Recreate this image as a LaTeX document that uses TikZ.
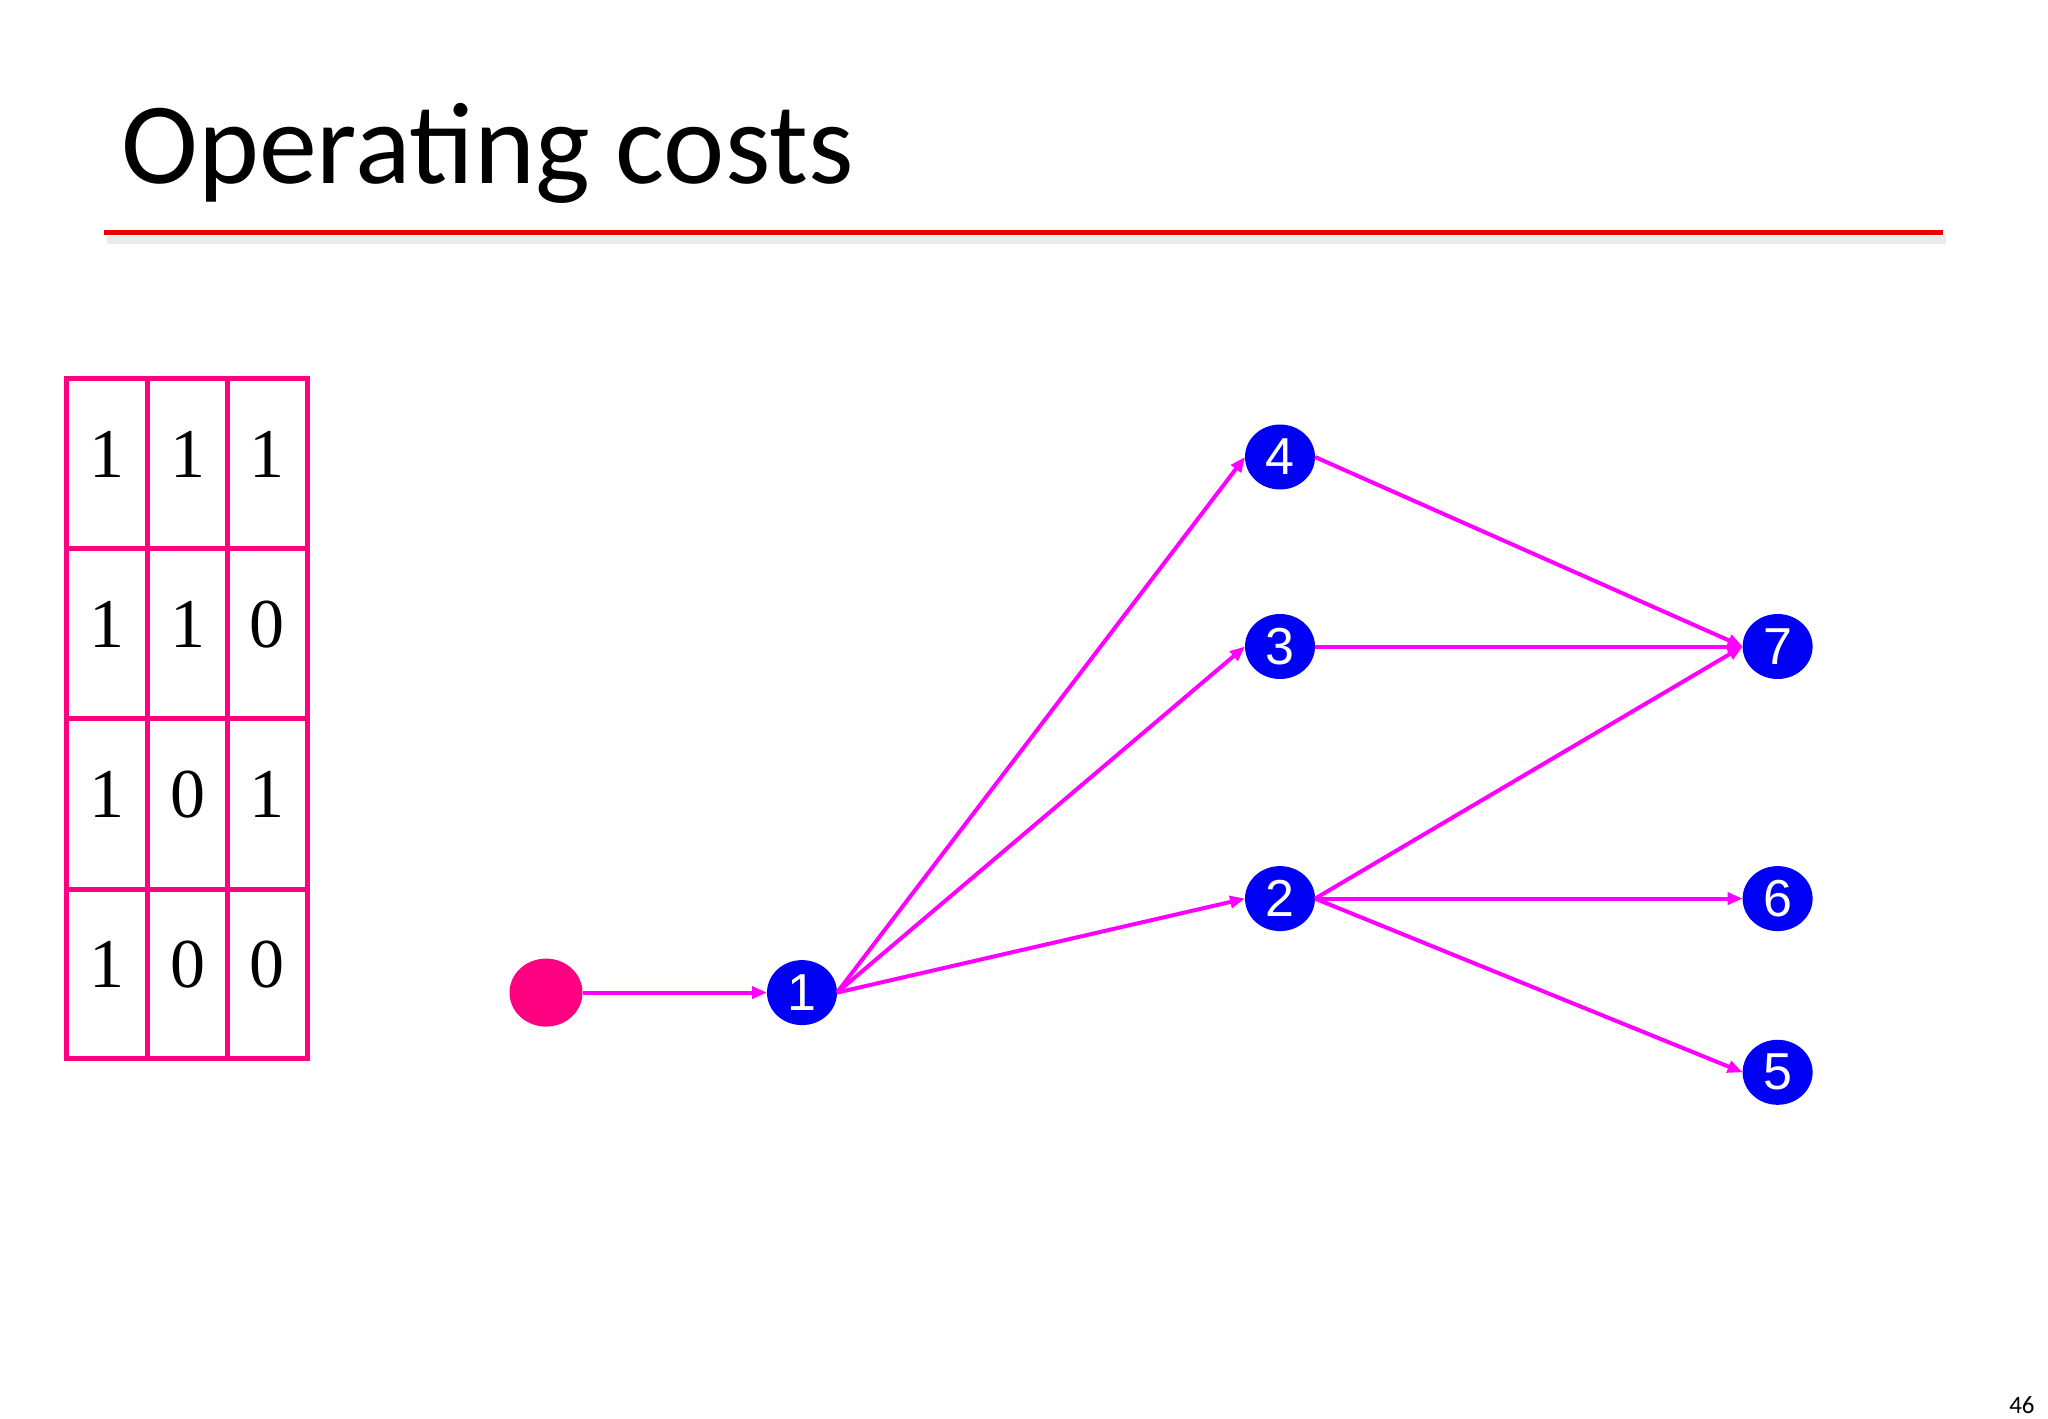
\documentclass[tikz,border=0pt]{standalone}
\usepackage{fontspec}
\setmainfont{Liberation Serif}
\newfontfamily\titlefont{Carlito}
\newfontfamily\labelfont{Liberation Sans}
\usepackage{tikz}
\usetikzlibrary{arrows.meta, shapes}
\usepackage{xcolor}
\definecolor{tablepink}{RGB}{255,0,128}
\definecolor{nodeblue}{RGB}{0,0,245}
\definecolor{edgemagenta}{RGB}{255,0,255}
\definecolor{rulered}{RGB}{235,0,0}

\begin{document}
\begin{tikzpicture}[x=0.5pt, y=-0.5pt,
		vertex/.style={ellipse, fill=nodeblue, text=white, minimum width=35pt, minimum height=32.5pt, inner sep=0pt, outer sep=0pt, font=\labelfont\fontsize{26}{26}\selectfont},
		startnode/.style={ellipse, fill=tablepink, minimum width=36.5pt, minimum height=34pt, inner sep=0pt, outer sep=0pt},
		flow/.style={draw=edgemagenta, line width=2pt, -{Triangle[length=7.5pt, width=6pt]}},
		grid line/.style={tablepink, line width=2.5pt},
		digit/.style={anchor=base, inner sep=0pt, font=\fontsize{35}{35}\selectfont}]
		\useasboundingbox (0,0) rectangle (2048,1418);
		% title and rule
		\node[anchor=base west, inner sep=0pt, font=\titlefont\fontsize{58}{58}\selectfont] (title) at (121,183) {Operating costs};
		\draw[black!8, line width=4pt] (107,240) -- (1946,240);
		\draw[rulered, line width=2.5pt] (104,232.5) -- (1943,232.5);
		% table
		\draw[grid line] (66.6,378.8) rectangle (307,1058);
		\foreach \x in {147.6,227.3} \draw[grid line] (\x,378.8) -- (\x,1058);
		\foreach \y in {548.6,718.3,889.4} \draw[grid line] (66.6,\y) -- (307,\y);
		\foreach \row/\a/\b/\c in {1/1/1/1, 2/1/1/0, 3/1/0/1, 4/1/0/0}{
			\pgfmathsetmacro{\ybase}{378.8+(\row-1)*169.8+99}
			\node[digit] (c\row a) at (107,\ybase) {\a};
			\node[digit] (c\row b) at (187.5,\ybase) {\b};
			\node[digit] (c\row c) at (267,\ybase) {\c};
		}
		% graph
		\node[startnode] (s) at (546,992.6) {};
		\node[vertex] (n1) at (802,992.6) {1};
		\node[vertex] (n2) at (1280,898.6) {2};
		\node[vertex] (n3) at (1280,646.5) {3};
		\node[vertex] (n4) at (1280,457) {4};
		\node[vertex] (n5) at (1777.6,1072.3) {5};
		\node[vertex] (n6) at (1777.6,898.6) {6};
		\node[vertex] (n7) at (1777.6,646.5) {7};
		\draw[flow] (s.east) -- (n1.west);
		\foreach \t in {n4,n3,n2} \draw[flow] (n1.east) -- (\t.west);
		\foreach \f in {n4,n3,n2} \draw[flow] (\f.east) -- (n7.west);
		\draw[flow] (n2.east) -- (n6.west);
		\draw[flow] (n2.east) -- (n5.west);
		% page number
		\node[anchor=base east, inner sep=0pt, font=\titlefont\fontsize{12.5}{12.5}\selectfont] (pagenum) at (2035,1413) {46};
\end{tikzpicture}
\end{document}
